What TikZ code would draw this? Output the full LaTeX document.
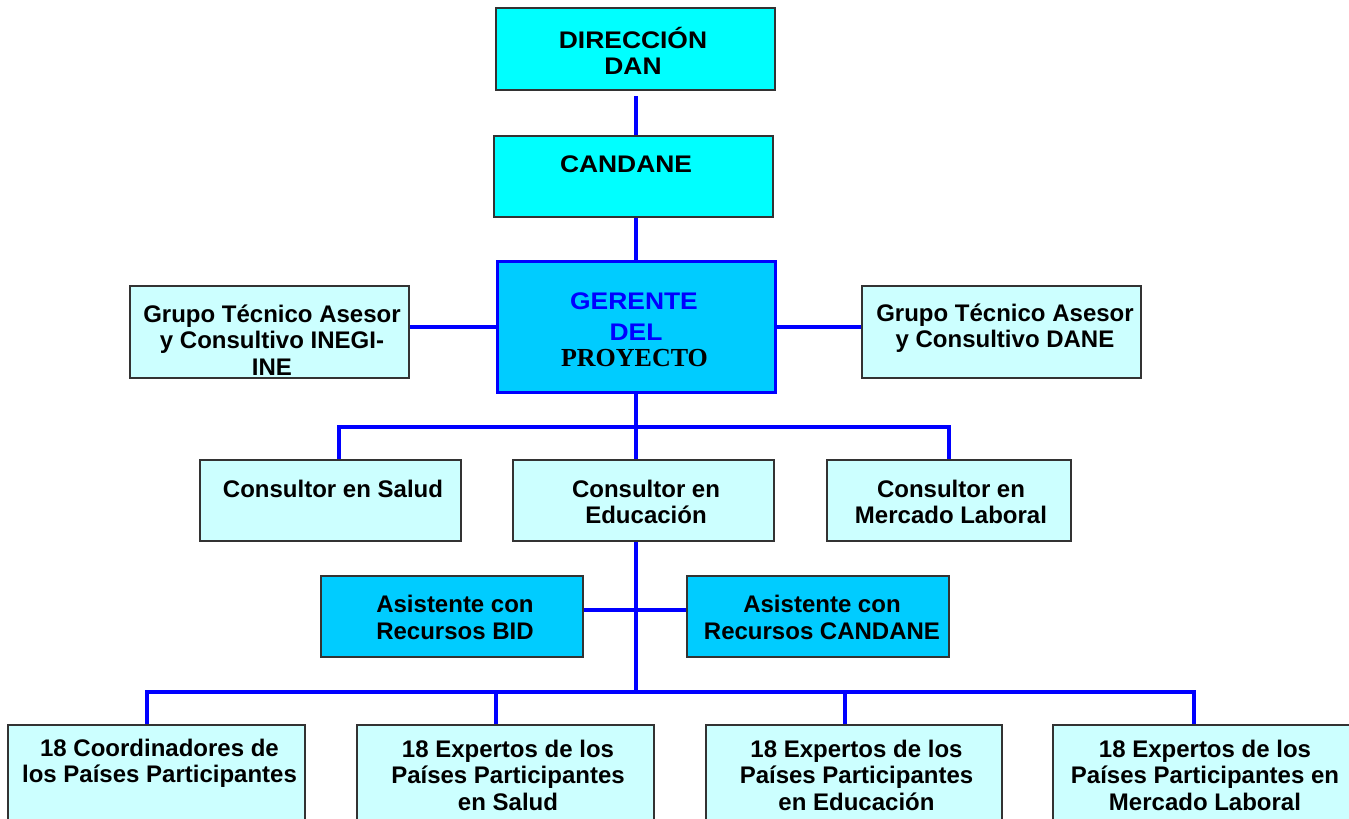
\documentclass[tikz,border=0pt]{standalone}
\usepackage{fontspec}
\setmainfont{Liberation Sans}
\newfontfamily\widesans[FakeStretch=1.1]{Liberation Sans}
\newfontfamily\serifbold{Liberation Serif}
\usetikzlibrary{calc}
\definecolor{lcyan}{HTML}{CCFFFF}
\definecolor{mcyan}{HTML}{00CCFF}
\definecolor{fcyan}{HTML}{00FFFF}
\definecolor{lnblue}{HTML}{0000FF}
\definecolor{bord}{HTML}{333333}
\begin{document}
\begin{tikzpicture}[x=0.75pt,y=-0.75pt,
  box/.style={draw=bord, line width=1pt, inner sep=0pt},
  bsize/.style 2 args={minimum width=#1*0.75pt, minimum height=#2*0.75pt},
  conn/.style={draw=lnblue, line width=3pt},
  txt/.style={font=\bfseries\fontsize{18}{19.9}\selectfont, align=center, inner sep=0pt, text=black},
  wtxt/.style={font=\widesans\bfseries\fontsize{18}{19.9}\selectfont, align=center, inner sep=0pt, text=black}]
\useasboundingbox (0,0) rectangle (1349,818);
\fill[white] (0,0) rectangle (1349,818);
\clip (0,0) rectangle (1349,818);
% boxes
\node[box, fill=fcyan, bsize={279}{82}] (dir) at (635.5,49) {};
\node[box, fill=fcyan, bsize={279}{81}] (cand) at (633.5,176.5) {};
\node[draw=lnblue, line width=2.25pt, inner sep=0pt, fill=mcyan, bsize={278}{131}] (ger) at (636,326.5) {};
\node[box, fill=lcyan, bsize={279}{92}] (gl) at (269.5,332) {};
\node[box, fill=lcyan, bsize={279}{92}] (gr) at (1001.5,332) {};
\node[box, fill=lcyan, bsize={261}{81}] (sal) at (330.5,500.5) {};
\node[box, fill=lcyan, bsize={261}{81}] (edu) at (643.5,500.5) {};
\node[box, fill=lcyan, bsize={244}{81}] (mer) at (949,500.5) {};
\node[box, fill=mcyan, bsize={262}{81}] (abid) at (452,616.5) {};
\node[box, fill=mcyan, bsize={262}{81}] (acan) at (818,616.5) {};
\node[box, fill=lcyan, bsize={297}{120}] (b1) at (156.5,785) {};
\node[box, fill=lcyan, bsize={297}{120}] (b2) at (505.5,785) {};
\node[box, fill=lcyan, bsize={296}{120}] (b3) at (854,785) {};
\node[box, fill=lcyan, bsize={297}{120}] (b4) at (1201.5,785) {};
% connectors
\draw[conn, shorten <=4pt] (dir.south) -- (dir.south |- cand.north);
\draw[conn] (ger.north |- cand.south) -- (ger.north);
\draw[conn] (ger.west) -- (gl.east |- ger.west);
\draw[conn] (ger.east) -- (gr.west |- ger.east);
\coordinate (j1) at (636,427);
\coordinate (ds) at ($(sal.north)+(8.5,0)$);
\draw[conn] (ger.south) -- (j1);
\draw[conn] (ds) |- (j1) -| (mer.north);
\draw[conn] (j1) -- (j1 |- edu.north);
\coordinate (j2) at (636,692);
\draw[conn] (j2 |- edu.south) -- (j2);
\coordinate (ab) at ($(abid.east)+(0,-6.5)$);
\draw[conn] (ab) -- (ab -| acan.west);
\coordinate (d1) at ($(b1.north)+(-9.5,0)$);
\coordinate (d2) at ($(b2.north)+(-9.5,0)$);
\coordinate (d3) at ($(b3.north)+(-9,0)$);
\coordinate (d4) at ($(b4.north)+(-7.5,0)$);
\draw[conn] (d1) |- (j2) -| (d4);
\draw[conn] (d2) -- (d2 |- j2);
\draw[conn] (d3) -- (d3 |- j2);
% texts
\node[wtxt] (tdir) at (633,51) {DIRECCIÓN\\DAN};
\node[wtxt] (tcand) at (626,164) {CANDANE};
\node[wtxt, text=lnblue] (tg1) at (634,301.5) {GERENTE};
\node[wtxt, text=lnblue] (tg2) at (636,332.5) {DEL};
\node[font=\serifbold\bfseries\fontsize{19.5}{20}\selectfont, inner sep=0pt] (tg3) at (634.5,358) {PROYECTO};
\node[txt] (tgl) at (272,340) {Grupo Técnico Asesor\\y Consultivo INEGI-\\INE};
\node[txt] (tgr) at (1005,328) {Grupo Técnico Asesor\\y Consultivo DANE};
\node[txt] (tsal) at (333,489) {Consultor en Salud};
\node[txt] (tedu) at (646,502) {Consultor en\\Educación};
\node[txt] (tmer) at (951,502) {Consultor en\\Mercado Laboral};
\node[txt] (tab) at (455,617.5) {Asistente con\\Recursos BID};
\node[txt] (tac) at (822,617.5) {Asistente con\\Recursos CANDANE};
\node[txt] (tb1) at (159.5,763.5) {18 Coordinadores de\\los Países Participantes};
\node[txt] (tb2) at (508,775) {18 Expertos de los\\Países Participantes\\en Salud};
\node[txt] (tb3) at (856.5,775) {18 Expertos de los\\Países Participantes\\en Educación};
\node[txt] (tb4) at (1205,775) {18 Expertos de los\\Países Participantes en\\Mercado Laboral};
\end{tikzpicture}
\end{document}
